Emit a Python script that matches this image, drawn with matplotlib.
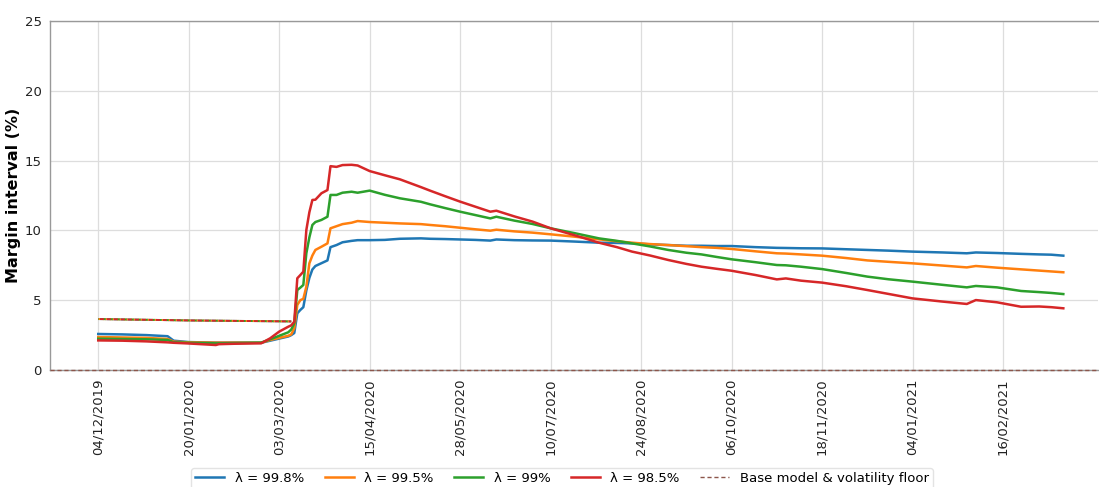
import matplotlib
matplotlib.use("Agg")
import matplotlib.pyplot as plt

# business-day index of each read point
idx = [0, 8, 16, 23, 25, 30, 39, 40, 45, 54,
       57, 60, 63, 64, 65, 66, 67, 68, 69, 70,
       71, 72, 74, 76, 77, 79, 81, 84, 86, 90,
       95, 100, 107, 110, 115, 120, 125, 130, 132, 138,
       144, 150, 158, 166, 172, 177, 183, 189, 195, 200,
       205, 210, 218, 225, 228, 233, 240, 248, 255, 262,
       270, 280, 288, 291, 298, 306, 312, 316, 320]

lam_998 = [2.58, 2.55, 2.50, 2.42, 2.10, 2.00, 1.96, 1.96, 1.96, 1.95,
           2.10, 2.25, 2.40, 2.50, 2.65, 4.06, 4.30, 4.50, 5.70, 6.60,
           7.20, 7.45, 7.65, 7.85, 8.80, 8.95, 9.15, 9.25, 9.30, 9.30,
           9.32, 9.40, 9.43, 9.40, 9.38, 9.35, 9.32, 9.27, 9.35, 9.30,
           9.28, 9.27, 9.20, 9.12, 9.10, 9.07, 9.00, 8.95, 8.90, 8.90,
           8.88, 8.88, 8.80, 8.75, 8.74, 8.72, 8.71, 8.65, 8.60, 8.55,
           8.48, 8.42, 8.36, 8.42, 8.38, 8.32, 8.28, 8.26, 8.19]

lam_995 = [2.36, 2.33, 2.30, 2.22, 2.03, 1.98, 1.96, 1.96, 1.96, 1.95,
           2.15, 2.30, 2.45, 2.55, 2.99, 4.66, 5.00, 5.10, 5.97, 7.64,
           8.20, 8.60, 8.83, 9.07, 10.15, 10.30, 10.45, 10.55, 10.67, 10.60,
           10.55, 10.50, 10.45, 10.39, 10.30, 10.19, 10.08, 9.98, 10.05, 9.93,
           9.84, 9.72, 9.55, 9.36, 9.22, 9.12, 9.02, 8.95, 8.87, 8.80,
           8.75, 8.67, 8.50, 8.36, 8.34, 8.28, 8.19, 8.02, 7.85, 7.75,
           7.64, 7.48, 7.35, 7.45, 7.33, 7.21, 7.12, 7.06, 7.00]

lam_990 = [2.24, 2.22, 2.20, 2.15, 1.99, 1.95, 1.91, 1.91, 1.93, 1.96,
           2.20, 2.45, 2.70, 2.90, 3.34, 5.73, 5.90, 6.09, 8.36, 9.50,
           10.39, 10.60, 10.75, 10.98, 12.54, 12.54, 12.70, 12.77, 12.70, 12.85,
           12.55, 12.30, 12.05, 11.87, 11.60, 11.34, 11.10, 10.86, 10.98, 10.70,
           10.46, 10.15, 9.80, 9.43, 9.25, 9.07, 8.85, 8.60, 8.40, 8.28,
           8.10, 7.93, 7.72, 7.52, 7.50, 7.40, 7.23, 6.95, 6.69, 6.50,
           6.33, 6.10, 5.92, 6.02, 5.92, 5.66, 5.58, 5.52, 5.44]

lam_985 = [2.12, 2.10, 2.05, 1.98, 1.95, 1.90, 1.79, 1.85, 1.88, 1.91,
           2.27, 2.75, 3.10, 3.20, 3.46, 6.57, 6.80, 7.04, 10.03, 11.30,
           12.18, 12.20, 12.66, 12.89, 14.60, 14.55, 14.68, 14.70, 14.65, 14.25,
           13.95, 13.66, 13.10, 12.85, 12.45, 12.06, 11.70, 11.34, 11.41, 11.00,
           10.63, 10.15, 9.65, 9.12, 8.80, 8.48, 8.20, 7.88, 7.60, 7.40,
           7.25, 7.11, 6.80, 6.49, 6.56, 6.40, 6.26, 6.00, 5.73, 5.45,
           5.13, 4.90, 4.73, 5.01, 4.85, 4.53, 4.55, 4.50, 4.42]

base_idx = [0, 30, 64]
base_model = [3.65, 3.55, 3.48]
vol_floor = 0.0

tick_pos = [0, 30, 60, 90, 120, 150, 180, 210, 240, 270, 300]
tick_labels = ["04/12/2019", "20/01/2020", "03/03/2020", "15/04/2020",
               "28/05/2020", "10/07/2020", "24/08/2020", "06/10/2020",
               "18/11/2020", "04/01/2021", "16/02/2021"]

series = [("λ = 99.8%", lam_998, "#1f77b4"),
          ("λ = 99.5%", lam_995, "#ff7f0e"),
          ("λ = 99%", lam_990, "#2ca02c"),
          ("λ = 98.5%", lam_985, "#d62728")]

fig = plt.figure(figsize=(10.99, 4.87), dpi=100)
ax = fig.add_axes([50 / 1099, 1 - 370 / 487, 1048 / 1099, 349 / 487])

handles = []
for name, vals, col in series:
    h, = ax.plot(idx, vals, color=col, lw=1.8, label=name)
    handles.append(h)
for k, (name, vals, col) in enumerate(series):
    ax.plot(base_idx, base_model, color=col, lw=1.4, ls=(k * 0.9, (2, 1.6)))

hb = ax.axhline(vol_floor, color="#8c564b", lw=1.0, ls=(0, (3, 2)),
                label="Base model & volatility floor", zorder=5, clip_on=False)
handles.append(hb)

ax.set_xlim(-16, 331.5)
ax.set_ylim(0, 25)
ax.set_yticks([0, 5, 10, 15, 20, 25])
ax.set_xticks(tick_pos)
ax.set_xticklabels(tick_labels, rotation=90)
ax.tick_params(axis="both", length=0, labelsize=9.5, pad=6, colors="#222222")
ax.grid(True, color="#dddddd", lw=0.9)
ax.set_axisbelow(True)
ax.set_ylabel("Margin interval (%)", fontsize=11.5, fontweight="bold")
ax.yaxis.set_label_coords(-29 / 1048, 0.5)
for s in ["left", "top", "bottom"]:
    ax.spines[s].set_color("#999999")
    ax.spines[s].set_linewidth(1.0)
ax.spines["right"].set_visible(False)

fig.legend(handles=handles, loc="upper center", ncol=5,
           bbox_to_anchor=(562 / 1099, 1 - 468 / 487), fontsize=9.5,
           frameon=True, edgecolor="#dddddd", columnspacing=1.55,
           handlelength=2.2, borderpad=0.3, borderaxespad=0.0)

fig.savefig("out.png", dpi=100)
